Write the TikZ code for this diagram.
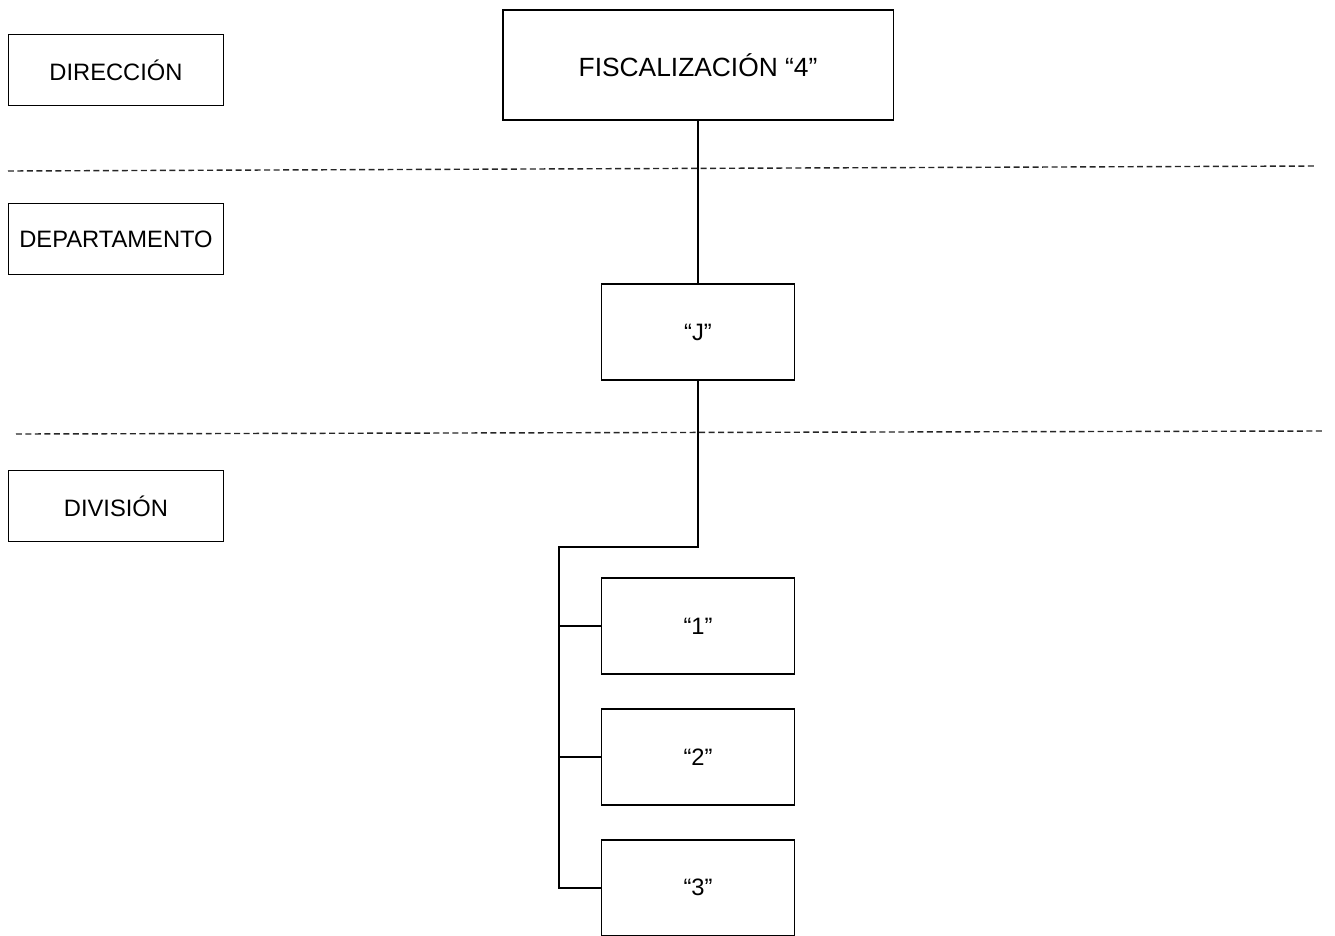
\documentclass[tikz,border=0pt]{standalone}
\usepackage{fontspec}
\setmainfont{Liberation Sans}
\usetikzlibrary{positioning}

\begin{document}
\begin{tikzpicture}[
			x=0.02cm, y=-0.02cm,
			node distance=0.66cm,
			level/.style={rectangle, draw, line width=1.1pt, minimum width=4.3cm, minimum height=1.42cm, text centered, font=\fontsize{13.5}{16}\selectfont},
			unit/.style={rectangle, draw, line width=1.1pt, minimum width=3.86cm, minimum height=1.92cm, text centered, font=\fontsize{13.5}{16}\selectfont},
			link/.style={line width=1.1pt},
			sep/.style={dash pattern=on 3.4pt off 2pt, line width=0.8pt, black!85}
			]
			\useasboundingbox (0,0) rectangle (1335,936);
			
			% Levels
			\node[level] (direccion) at (116,70) {DIRECCIÓN};
			\node[level] (departamento) at (116,239) {DEPARTAMENTO};
			\node[level] (division) at (116,506) {DIVISIÓN};
			
			% Separators
			\draw[sep] (8,171) -- (1317,166);
			\draw[sep] (16,434) -- (1325,431);
			
			% Units
			\node[level, minimum width=7.82cm, minimum height=2.2cm, font=\fontsize{15}{18}\selectfont] (fisc) at (698,65) {FISCALIZACIÓN “4”};
			\node[unit] (j) at (698,332) {“J”};
			\node[unit] (d1) at (698,626) {“1”};
			\node[unit, below=of d1] (d2) {“2”};
			\node[unit, below=of d2] (d3) {“3”};
			
			% Lines
			\coordinate (bus) at (559,547);
			\draw[link] (fisc) -- (j);
			\draw[link] (j.south) |- (bus) -- (bus |- d3.west) -- (d3.west);
			\foreach \d in {d1,d2}
				\draw[link] (bus |- \d.west) -- (\d.west);
			
		\end{tikzpicture}
\end{document}
